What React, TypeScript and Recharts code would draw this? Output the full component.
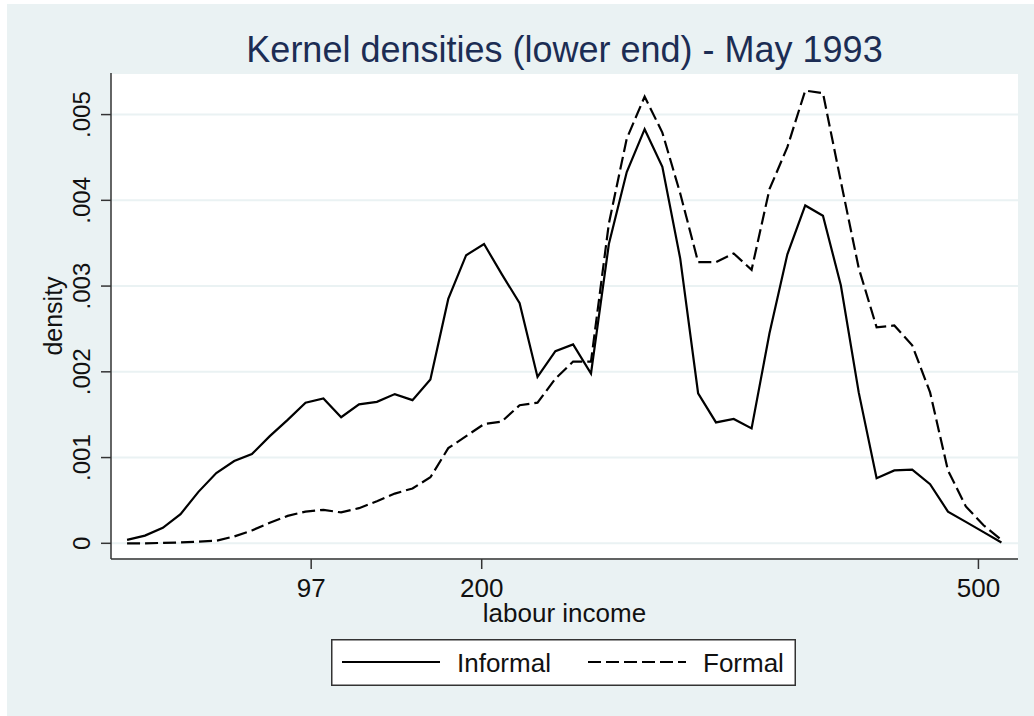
import React from "react";
import {
  LineChart,
  Line,
  XAxis,
  YAxis,
  CartesianGrid,
  Legend,
} from "recharts";

// evaluation grid of the kernel estimate (labour income)
const X_GRID = [
  -14.2, -3.4, 7.4, 18.1, 28.9, 39.7, 50.5, 61.2, 72.0, 82.8,
  93.6, 104.4, 115.1, 125.9, 136.7, 147.5, 158.2, 169.0, 179.8, 190.6,
  201.4, 212.1, 222.9, 233.7, 244.5, 255.2, 266.0, 276.8, 287.6, 298.4,
  309.1, 319.9, 330.7, 341.5, 352.2, 363.0, 373.8, 384.6, 395.4, 406.1,
  416.9, 427.7, 438.5, 449.2, 460.0, 470.8, 481.6, 492.4, 503.1, 513.9,
];

const INFORMAL = [
  0.00004, 0.00009, 0.00018, 0.00034, 0.0006, 0.00082, 0.00096, 0.00104, 0.00125, 0.00144,
  0.00164, 0.00169, 0.00147, 0.00162, 0.00165, 0.00174, 0.00167, 0.00191, 0.00285, 0.00336,
  0.00349, 0.00314, 0.0028, 0.00194, 0.00224, 0.00232, 0.00198, 0.00349, 0.00433, 0.00483,
  0.00439, 0.00332, 0.00175, 0.00141, 0.00145, 0.00134, 0.00245, 0.00337, 0.00394, 0.00382,
  0.00301, 0.00176, 0.00076, 0.00085, 0.00086, 0.00069, 0.00037, 0.00025, 0.00013, 0.00001,
];

const FORMAL = [
  0, 0, 0.000005, 0.00001, 0.00002, 0.00003, 0.00008, 0.00015, 0.00024, 0.00032,
  0.00037, 0.00039, 0.00036, 0.00041, 0.00049, 0.00058, 0.00064, 0.00077, 0.00111, 0.00125,
  0.00139, 0.00142, 0.00161, 0.00164, 0.00192, 0.00212, 0.00212, 0.00373, 0.00472, 0.00521,
  0.00479, 0.00408, 0.00328, 0.00328, 0.00338, 0.00319, 0.00413, 0.00462, 0.00528, 0.00525,
  0.00422, 0.00321, 0.00252, 0.00254, 0.00231, 0.00176, 0.00085, 0.00043, 0.00021, 0.00004,
];

const X_TICKS = [97, 200, 500];
const Y_TICKS = [0, 0.001, 0.002, 0.003, 0.004, 0.005];
const Y_TICK_LABELS = ["0", ".001", ".002", ".003", ".004", ".005"];

const SERIES = [
  { key: "informal", name: "Informal", dash: undefined as string | undefined },
  { key: "formal", name: "Formal", dash: "13 5" },
];

const data = X_GRID.map((x, i) => ({
  x,
  informal: INFORMAL[i],
  formal: FORMAL[i],
}));

const FONT = 'Arial, "Liberation Sans", Helvetica, sans-serif';
const BG = "#eaf2f3";
const AXIS = "#333";

function XTick(props: any) {
  const { x, y, payload } = props;
  return (
    <text x={x} y={y + 28} textAnchor="middle" fontSize={26} fill="#111" fontFamily={FONT}>
      {payload.value}
    </text>
  );
}

function YTick(props: any) {
  const { x, y, payload, index } = props;
  const tx = x - 11;
  const label = Y_TICK_LABELS[index] ?? String(payload.value);
  return (
    <text
      x={tx}
      y={y}
      transform={`rotate(-90, ${tx}, ${y})`}
      textAnchor="middle"
      fontSize={24}
      fill="#111"
      fontFamily={FONT}
    >
      {label}
    </text>
  );
}

function XTitle(props: any) {
  const vb = props.viewBox || {};
  return (
    <text
      x={vb.x + vb.width / 2}
      y={vb.y + 63}
      textAnchor="middle"
      fontSize={26}
      fill="#111"
      fontFamily={FONT}
    >
      labour income
    </text>
  );
}

function YTitle(props: any) {
  const vb = props.viewBox || {};
  const cy = vb.y + vb.height / 2;
  const cx = 62;
  return (
    <text
      x={cx}
      y={cy}
      transform={`rotate(-90, ${cx}, ${cy})`}
      textAnchor="middle"
      fontSize={25}
      fill="#111"
      fontFamily={FONT}
    >
      density
    </text>
  );
}

function LegendBox() {
  const w = 465;
  const h = 47;
  return (
    <svg width={w} height={h} style={{ display: "block" }}>
      <rect x={0.75} y={0.75} width={w - 1.5} height={h - 1.5} fill="#fff" stroke={AXIS} strokeWidth={1.5} />
      {SERIES.map((s, i) => {
        const x0 = i === 0 ? 11 : 257;
        const tx = i === 0 ? 126 : 372;
        return (
          <g key={s.key}>
            <line x1={x0} x2={x0 + 98} y1={23} y2={23} stroke="#000" strokeWidth={2} strokeDasharray={s.dash} />
            <text x={tx} y={32.5} fontSize={26} fill="#111" fontFamily={FONT}>
              {s.name}
            </text>
          </g>
        );
      })}
    </svg>
  );
}

export default function App(): React.ReactElement {
  return (
    <div
      style={{
        position: "absolute",
        left: 0,
        top: 0,
        width: 1034,
        height: 716,
        background: "#fff",
        fontFamily: FONT,
        overflow: "hidden",
      }}
    >
      <div style={{ position: "absolute", left: 7, top: 4, right: 0, bottom: 0, background: BG }} />
      <div
        style={{
          position: "absolute",
          left: 111,
          width: 907,
          top: 32,
          fontSize: 36,
          lineHeight: "36px",
          textAlign: "center",
          color: "#1c2d54",
          whiteSpace: "nowrap",
        }}
      >
        Kernel densities (lower end) - May 1993
      </div>
      <LineChart
        width={1034}
        height={716}
        data={data}
        margin={{ top: 73, right: 16, bottom: 97, left: 0 }}
        style={{ position: "absolute", left: 0, top: 0 }}
      >
        <CartesianGrid horizontal vertical={false} fill="#fff" stroke={BG} strokeWidth={2} />
        <XAxis
          dataKey="x"
          type="number"
          domain={[-23.9, 523.9]}
          ticks={X_TICKS}
          allowDataOverflow
          height={60}
          tickSize={10}
          tickMargin={0}
          stroke={AXIS}
          strokeWidth={1.5}
          tick={<XTick />}
          label={<XTitle />}
        />
        <YAxis
          type="number"
          domain={[-0.000183, 0.005485]}
          ticks={Y_TICKS}
          allowDataOverflow
          width={111}
          tickSize={10}
          tickMargin={0}
          stroke={AXIS}
          strokeWidth={1.5}
          tick={<YTick />}
          label={<YTitle />}
        />
        {SERIES.map((s) => (
          <Line
            key={s.key}
            type="linear"
            dataKey={s.key}
            name={s.name}
            stroke="#000"
            strokeWidth={2.2}
            strokeDasharray={s.dash}
            dot={false}
            activeDot={false}
            isAnimationActive={false}
          />
        ))}
        <Legend
          verticalAlign="middle"
          align="center"
          content={<LegendBox />}
          wrapperStyle={{ left: 331, top: 639, width: 465, height: 47 }}
        />
      </LineChart>
    </div>
  );
}
